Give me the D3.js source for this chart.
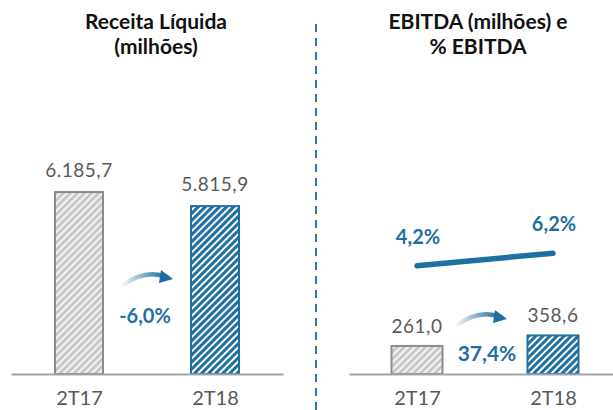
<!DOCTYPE html>
<html>
<head>
<meta charset="utf-8">
<script src="https://cdn.jsdelivr.net/npm/d3@7"></script>
<style>
  body { margin: 0; background: #fff; }
  text { font-family: Lato, "Open Sans", sans-serif; }
</style>
</head>
<body>
<div class="container"></div>
<script>
var categories = ["2T17", "2T18"];
var receita = [6185.7, 5815.9];
var ebitda = [261.0, 358.6];
var margem = [4.2, 6.2];
var titleLeft = ["Receita Líquida", "(milhões)"];
var titleRight = ["EBITDA (milhões) e", "% EBITDA"];

const WIDTH = 613;
const HEIGHT = 410;
const BASE = 374;
const BLUE = "#1f6fa3";
const GREY_TEXT = "#595959";

var ptBR = d3.formatLocale({decimal: ",", thousands: ".", grouping: [3], currency: ["R$", ""], minus: "-"});
var fmtVal = ptBR.format(",.1f");
var fmtPct = function(v) { return ptBR.format(".1f")(v) + "%"; };

var svg = d3.select('.container').append('svg')
  .attr('width', WIDTH)
  .attr('height', HEIGHT);

// hatch patterns
var defs = svg.append('defs');
var grey = defs.append('pattern')
  .attr('id', 'hatchGrey')
  .attr('patternUnits', 'userSpaceOnUse')
  .attr('width', 5).attr('height', 5)
  .attr('patternTransform', 'rotate(45)');
grey.append('rect').attr('width', 5).attr('height', 5).attr('fill', '#f1f1f1');
grey.append('rect').attr('width', 2.6).attr('height', 5).attr('fill', '#c4c4c4');

var blue = defs.append('pattern')
  .attr('id', 'hatchBlue')
  .attr('patternUnits', 'userSpaceOnUse')
  .attr('width', 5).attr('height', 5)
  .attr('patternTransform', 'rotate(45)');
blue.append('rect').attr('width', 5).attr('height', 5).attr('fill', '#ffffff');
blue.append('rect').attr('width', 3).attr('height', 5).attr('fill', BLUE);

var grad = defs.append('linearGradient')
  .attr('id', 'arrowGrad')
  .attr('x1', 0).attr('x2', 1).attr('y1', 0).attr('y2', 0);
grad.append('stop').attr('offset', 0).attr('stop-color', BLUE).attr('stop-opacity', 0.05);
grad.append('stop').attr('offset', 0.6).attr('stop-color', BLUE).attr('stop-opacity', 0.7);
grad.append('stop').attr('offset', 1).attr('stop-color', BLUE).attr('stop-opacity', 1);

var fills = ['url(#hatchGrey)', 'url(#hatchBlue)'];
var strokes = ['#8c8c8c', BLUE];

// scales
var xLeft = d3.scalePoint().domain(categories).range([11, 283]).padding(0.5);
var xRight = d3.scalePoint().domain(categories).range([349, 621]).padding(0.5);
var yLeft = d3.scaleLinear().domain([1400, 6200]).range([BASE, 191.5]);
var yRight = d3.scaleLinear().domain([0, 400]).range([BASE, 331]);
var yPct = d3.scaleLinear().domain([0, 10]).range([291.7, 229.7]);

function titles(lines, cx) {
  svg.append('text')
    .attr('x', cx).attr('y', 29)
    .attr('text-anchor', 'middle')
    .attr('font-size', '21px').attr('font-weight', 'bold')
    .attr('fill', '#111')
    .text(lines[0]);
  svg.append('text')
    .attr('x', cx).attr('y', 54)
    .attr('text-anchor', 'middle')
    .attr('font-size', '21px').attr('font-weight', 'bold')
    .attr('fill', '#111')
    .text(lines[1]);
}

function panel(x, y, values, barW, labelOff) {
  var g = svg.append('g');
  g.selectAll('rect')
    .data(values)
    .enter().append('rect')
    .attr('x', function(d, i) { return x(categories[i]) - barW / 2; })
    .attr('y', function(d) { return y(d); })
    .attr('width', barW)
    .attr('height', function(d) { return BASE - y(d); })
    .attr('fill', function(d, i) { return fills[i]; })
    .attr('stroke', function(d, i) { return strokes[i]; })
    .attr('stroke-width', 2);

  g.selectAll('text.val')
    .data(values)
    .enter().append('text')
    .attr('class', 'val')
    .attr('x', function(d, i) { return x(categories[i]); })
    .attr('y', function(d) { return y(d) - labelOff; })
    .attr('text-anchor', 'middle')
    .attr('font-size', '19px')
    .attr('letter-spacing', '0.5px')
    .attr('fill', GREY_TEXT)
    .text(function(d) { return fmtVal(d); });

  var axis = d3.axisBottom(x).tickSizeInner(0).tickSizeOuter(0).tickPadding(17);
  var ax = svg.append('g')
    .attr('transform', 'translate(0,' + BASE + ')')
    .call(axis);
  ax.select('.domain').attr('stroke', '#a6a6a6').attr('stroke-width', 2);
  ax.selectAll('text')
    .attr('font-size', '20px')
    .attr('font-family', 'Lato, sans-serif')
    .attr('fill', GREY_TEXT);
}

function arrow(cx, cy) {
  var p = d3.path();
  p.moveTo(cx - 24, cy + 6);
  p.quadraticCurveTo(cx - 2, cy - 10, cx + 20, cy - 2);
  svg.append('path')
    .attr('d', p.toString())
    .attr('fill', 'none')
    .attr('stroke', 'url(#arrowGrad)')
    .attr('stroke-width', 4.5)
    .attr('stroke-linecap', 'round');
  svg.append('path')
    .attr('d', 'M' + (cx + 14) + ',' + (cy - 9) + 'L' + (cx + 26) + ',' + (cy) + 'L' + (cx + 12) + ',' + (cy + 4) + 'Z')
    .attr('fill', BLUE);
}

function change(vals) {
  return fmtPct((vals[1] / vals[0] - 1) * 100);
}

titles(titleLeft, 156);
titles(titleRight, 478);

panel(xLeft, yLeft, receita, 48, 15);
panel(xRight, yRight, ebitda, 51, 13);

// margin line
var line = d3.line()
  .x(function(d, i) { return xRight(categories[i]); })
  .y(function(d) { return yPct(d); });
svg.append('path')
  .datum(margem)
  .attr('d', line)
  .attr('fill', 'none')
  .attr('stroke', BLUE)
  .attr('stroke-width', 5.5)
  .attr('stroke-linecap', 'round');

svg.selectAll('text.pct')
  .data(margem)
  .enter().append('text')
  .attr('class', 'pct')
  .attr('x', function(d, i) { return xRight(categories[i]) + 1; })
  .attr('y', function(d) { return yPct(d) - 22; })
  .attr('text-anchor', 'middle')
  .attr('font-size', '20px').attr('font-weight', 'bold')
  .attr('fill', BLUE)
  .text(function(d) { return fmtPct(d); });

// growth arrows and labels
var midL = (xLeft(categories[0]) + xLeft(categories[1])) / 2;
var midR = (xRight(categories[0]) + xRight(categories[1])) / 2;
arrow(midL, 279);
arrow(midR - 4, 319);

svg.append('text')
  .attr('x', midL - 2).attr('y', 323)
  .attr('text-anchor', 'middle')
  .attr('font-size', '20px').attr('font-weight', 'bold')
  .attr('fill', BLUE)
  .text(change(receita));
svg.append('text')
  .attr('x', midR + 2).attr('y', 361)
  .attr('text-anchor', 'middle')
  .attr('font-size', '21px').attr('font-weight', 'bold')
  .attr('fill', BLUE)
  .text(change(ebitda));

// divider
svg.append('line')
  .attr('x1', 316).attr('x2', 316)
  .attr('y1', 24).attr('y2', HEIGHT)
  .attr('stroke', '#2a7ab0')
  .attr('stroke-width', 2)
  .attr('stroke-dasharray', '8,6');
</script>
</body>
</html>
